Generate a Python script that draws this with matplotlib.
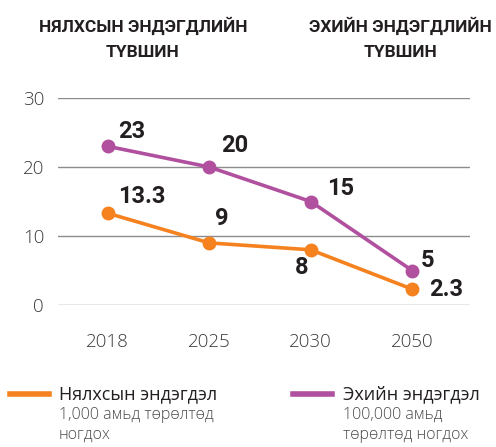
import matplotlib.pyplot as plt

# Data
years = ["2018", "2025", "2030", "2050"]
infant = [13.3, 9, 8, 2.3]        # 1,000 амьд төрөлтөд ногдох
maternal = [23, 20, 15, 5]        # 100,000 амьд төрөлтөд ногдох
infant_labels = ["13.3", "9", "8", "2.3"]
maternal_labels = ["23", "20", "15", "5"]
yticks = [0, 10, 20, 30]

ORANGE = "#F5821F"
PURPLE = "#B0509E"
GRID = "#8c8c8c"
TEXT = "#231f20"

plt.rcParams['font.family'] = ['Open Sans', 'DejaVu Sans']

fig = plt.figure(figsize=(4.96, 4.47), dpi=100)
ax = fig.add_axes([58/496, 142/447, 412/496, 207/447])

x = list(range(len(years)))
for yv in yticks:
    ax.axhline(yv, color=GRID, lw=1.0, zorder=1)

ax.plot(x, maternal, color=PURPLE, lw=2.6, marker="o", ms=9, clip_on=False, zorder=3)
ax.plot(x, infant, color=ORANGE, lw=2.6, marker="o", ms=9, clip_on=False, zorder=3)

# value labels (offsets in px -> pt)
k = 0.72
m_off = [(10, 15, "left"), (12, 21, "left"), (16, 13, "left"), (9, 10, "left")]
i_off = [(10, 17, "left"), (6, 24, "left"), (-9, -18, "center"), (17, 0, "left")]
for xi, v, lab, (dx, dy, ha) in zip(x, maternal, maternal_labels, m_off):
    ax.annotate(lab, (xi, v), xytext=(dx*k, dy*k), textcoords="offset points",
                ha=ha, va="center", fontsize=17, fontweight="bold", color=TEXT,
                family=["Roboto", "DejaVu Sans"])
for xi, v, lab, (dx, dy, ha) in zip(x, infant, infant_labels, i_off):
    ax.annotate(lab, (xi, v), xytext=(dx*k, dy*k), textcoords="offset points",
                ha=ha, va="center", fontsize=17, fontweight="bold", color=TEXT,
                family=["Roboto", "DejaVu Sans"])

ax.set_xlim(-0.49, 3.57)
ax.set_ylim(0, 30)
ax.set_xticks(x)
ax.set_xticklabels(years)
ax.set_yticks(yticks)
for s in ax.spines.values():
    s.set_visible(False)
ax.tick_params(length=0, labelsize=13.5, colors="#3a3a3a")
ax.tick_params(axis="x", pad=20)
ax.tick_params(axis="y", pad=10)
for t in ax.get_xticklabels() + ax.get_yticklabels():
    t.set_fontweight("light")

# titles
title_font = ["Roboto", "DejaVu Sans"]
fig.text(143/496, 1 - 38/447, "НЯЛХСЫН ЭНДЭГДЛИЙН\nТҮВШИН", ha="center", va="center",
         fontsize=12.5, fontweight="bold", color=TEXT, linespacing=1.85,
         family=title_font)
fig.text(400/496, 1 - 38/447, "ЭХИЙН ЭНДЭГДЛИЙН\nТҮВШИН", ha="center", va="center",
         fontsize=12.5, fontweight="bold", color=TEXT, linespacing=1.85,
         family=title_font)

# legend
ly = 1 - 394/447
fig.add_artist(plt.Line2D([10/496, 49/496], [ly, ly], color=ORANGE, lw=4))
fig.add_artist(plt.Line2D([293/496, 332/496], [ly, ly], color=PURPLE, lw=4))
fig.text(59/496, ly, "Нялхсын эндэгдэл", ha="left", va="center", fontsize=13, color=TEXT)
fig.text(343/496, ly, "Эхийн эндэгдэл", ha="left", va="center", fontsize=13, color=TEXT)
fig.text(59/496, 1 - 407/447, "1,000 амьд төрөлтөд\nногдох", ha="left", va="top",
         fontsize=11.5, color="#4a4a4a", fontweight="light", linespacing=1.3)
fig.text(343/496, 1 - 407/447, "100,000 амьд\nтөрөлтөд ногдох", ha="left", va="top",
         fontsize=11.5, color="#4a4a4a", fontweight="light", linespacing=1.3)

fig.savefig("out.png", dpi=100)
